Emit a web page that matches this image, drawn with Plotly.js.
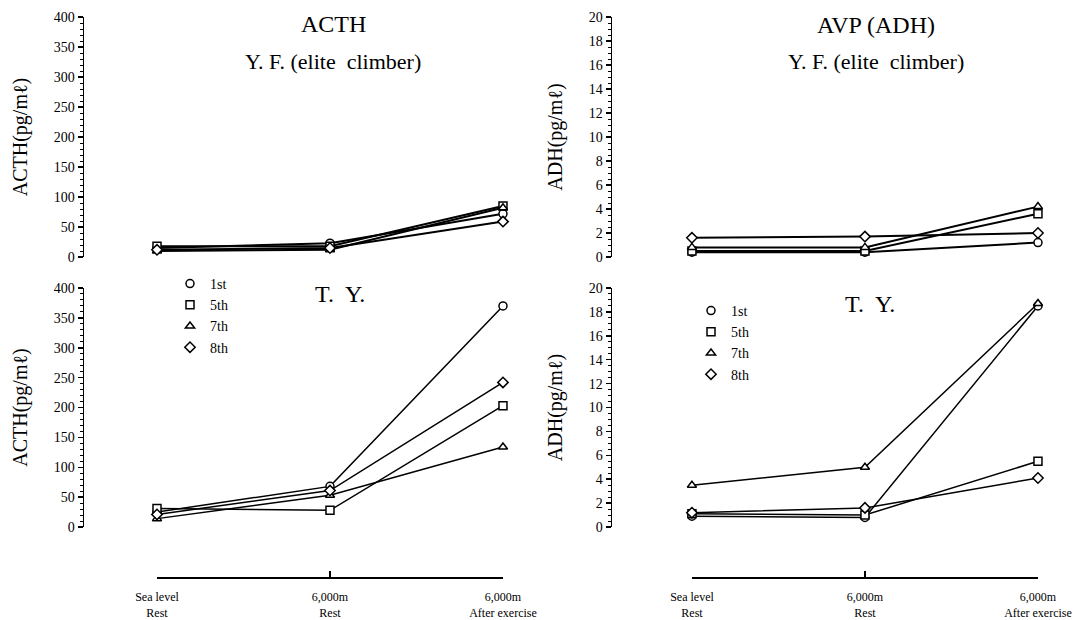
<!DOCTYPE html>
<html><head><meta charset="utf-8">
<script src="https://cdn.plot.ly/plotly-3.0.1.min.js"></script>
<style>html,body{margin:0;padding:0;background:#fff}#chart{width:1088px;height:620px}</style>
</head><body><div id="chart"></div><script>
// ---- data ----
const conditions = ["Sea level<br>Rest", "6,000m<br>Rest", "6,000m<br>After exercise"];
const sessions = ["1st", "5th", "7th", "8th"];
const symbols = ["circle", "square", "triangle-up", "diamond"];

// Y.F. (elite climber) ACTH (pg/ml)
const yfACTH_1st = [15, 23, 72];
const yfACTH_5th = [18, 18, 85];
const yfACTH_7th = [10, 12, 82];
const yfACTH_8th = [12, 15, 59];
// Y.F. (elite climber) ADH (pg/ml)
const yfADH_1st = [0.4, 0.4, 1.2];
const yfADH_5th = [0.5, 0.5, 3.6];
const yfADH_7th = [0.8, 0.8, 4.2];
const yfADH_8th = [1.6, 1.7, 2.0];
// T.Y. ACTH (pg/ml)
const tyACTH_1st = [25, 68, 370];
const tyACTH_5th = [31, 28, 203];
const tyACTH_7th = [14, 53, 134];
const tyACTH_8th = [21, 61, 242];
// T.Y. ADH (pg/ml)
const tyADH_1st = [0.9, 0.8, 18.5];
const tyADH_5th = [1.1, 1.0, 5.5];
const tyADH_7th = [3.5, 5.0, 18.7];
const tyADH_8th = [1.2, 1.6, 4.1];

const acthTicks = [0, 50, 100, 150, 200, 250, 300, 350, 400];
const adhTicks = [0, 2, 4, 6, 8, 10, 12, 14, 16, 18, 20];

// ---- layout helpers ----
const W = 1088, H = 620;
const px = v => v / W;
const py = v => 1 - v / H;
const FONT = "Liberation Serif, Times New Roman, serif";

const panels = [
  {ax: "", series: [yfACTH_1st, yfACTH_5th, yfACTH_7th, yfACTH_8th], lw: 2},
  {ax: "2", series: [yfADH_1st, yfADH_5th, yfADH_7th, yfADH_8th], lw: 2},
  {ax: "3", series: [tyACTH_1st, tyACTH_5th, tyACTH_7th, tyACTH_8th], lw: 1.5},
  {ax: "4", series: [tyADH_1st, tyADH_5th, tyADH_7th, tyADH_8th], lw: 1.5}
];

const traces = [];
panels.forEach(p => {
  p.series.forEach((vals, i) => {
    traces.push({
      type: "scatter", mode: "lines+markers",
      x: conditions, y: vals, name: sessions[i],
      xaxis: "x" + p.ax, yaxis: "y" + p.ax,
      line: {color: "#000", width: p.lw},
      marker: {symbol: symbols[i], size: 8, color: "#fff", line: {color: "#000", width: 1.5}},
      cliponaxis: false, showlegend: false, hoverinfo: "x+y+name"
    });
  });
});
// legend-only entries (markers only)
[["3", "legend"], ["4", "legend2"]].forEach(([ax, lg]) => {
  sessions.forEach((s, i) => {
    traces.push({
      type: "scatter", mode: "markers", x: [null], y: [null], name: s,
      xaxis: "x" + ax, yaxis: "y" + ax, legend: lg,
      marker: {symbol: symbols[i], size: 8, color: "#fff", line: {color: "#000", width: 1.5}},
      showlegend: true, hoverinfo: "skip"
    });
  });
});
// bottom condition axes (carry the category tick labels)
["5", "6"].forEach(ax => {
  traces.push({
    type: "scatter", mode: "markers", x: conditions, y: [0, 0, 0],
    xaxis: "x" + ax, yaxis: "y" + ax, marker: {opacity: 0},
    showlegend: false, hoverinfo: "skip"
  });
});

function yAx(dom, rng, ticks, minorD, title, anchor) {
  return {
    domain: dom, range: rng, anchor: anchor, tickmode: "array", tickvals: ticks,
    showline: true, linecolor: "#000", linewidth: 1.5, mirror: false,
    ticks: "outside", ticklen: 5, tickwidth: 1.5, tickcolor: "#000",
    minor: {ticks: "outside", ticklen: 3, tickwidth: 1, tickcolor: "#000", dtick: minorD},
    showgrid: false, zeroline: false,
    tickfont: {family: FONT, size: 14, color: "#000"},
    title: {text: title, font: {family: FONT, size: 20, color: "#000"}, standoff: 20},
    automargin: false, fixedrange: true
  };
}
function xAx(dom, rng, anchor) {
  return {domain: dom, range: rng, anchor: anchor, type: "category", visible: false, fixedrange: true};
}
function condAx(dom, anchor) {
  return {
    domain: dom, range: [0, 2], anchor: anchor, type: "category",
    showline: true, linecolor: "#000", linewidth: 1.5,
    ticks: "inside", ticklen: 6, tickwidth: 1.5, tickcolor: "#000",
    showgrid: false, zeroline: false,
    tickfont: {family: FONT, size: 12, color: "#000"},
    ticklabelstandoff: 8, automargin: false, fixedrange: true
  };
}

const topDom = [py(257), py(17)];
const botDom = [py(527), py(288)];
const leftDom = [px(84), px(540)];
const rightDom = [px(612), px(1075)];
const leftRange = [-0.422, 2.214];
const rightRange = [-0.462, 2.214];

const ann = (text, x, y, size) => ({
  text: text, xref: "paper", yref: "paper", x: px(x), y: py(y),
  xanchor: "center", yanchor: "middle", showarrow: false,
  font: {family: FONT, size: size, color: "#000"}
});

const layout = {
  width: W, height: H, margin: {l: 0, r: 0, t: 0, b: 0},
  paper_bgcolor: "#fff", plot_bgcolor: "rgba(0,0,0,0)",
  showlegend: true,
  xaxis: xAx(leftDom, leftRange, "y"),
  yaxis: yAx(topDom, [0, 400], acthTicks, 10, "ACTH(pg/mℓ)", "x"),
  xaxis2: xAx(rightDom, rightRange, "y2"),
  yaxis2: yAx(topDom, [0, 20], adhTicks, 0.5, "ADH(pg/mℓ)", "x2"),
  xaxis3: xAx(leftDom, leftRange, "y3"),
  yaxis3: yAx(botDom, [0, 400], acthTicks, 10, "ACTH(pg/mℓ)", "x3"),
  xaxis4: xAx(rightDom, rightRange, "y4"),
  yaxis4: yAx(botDom, [0, 20], adhTicks, 0.5, "ADH(pg/mℓ)", "x4"),
  xaxis5: condAx([px(157), px(503)], "y5"),
  yaxis5: {domain: [py(577), py(570)], anchor: "x5", visible: false, range: [0, 1], fixedrange: true},
  xaxis6: condAx([px(692), px(1038)], "y6"),
  yaxis6: {domain: [py(577), py(570)], anchor: "x6", visible: false, range: [0, 1], fixedrange: true},
  legend: {x: px(170), y: py(268), xanchor: "left", yanchor: "top", bgcolor: "rgba(0,0,0,0)",
           font: {family: FONT, size: 14, color: "#000"}, tracegroupgap: 0},
  legend2: {x: px(691), y: py(295), xanchor: "left", yanchor: "top", bgcolor: "rgba(0,0,0,0)",
            font: {family: FONT, size: 14, color: "#000"}, tracegroupgap: 0},
  annotations: [
    ann("ACTH", 333, 24, 24),
    ann("Y. F. (elite  climber)", 333, 62, 22),
    ann("AVP (ADH)", 876, 25, 24),
    ann("Y. F. (elite  climber)", 876, 62, 22),
    ann("T.  Y.", 340, 294, 24),
    ann("T.  Y.", 870, 304, 24)
  ]
};

Plotly.newPlot("chart", traces, layout, {displayModeBar: false, staticPlot: true});
</script></body></html>
